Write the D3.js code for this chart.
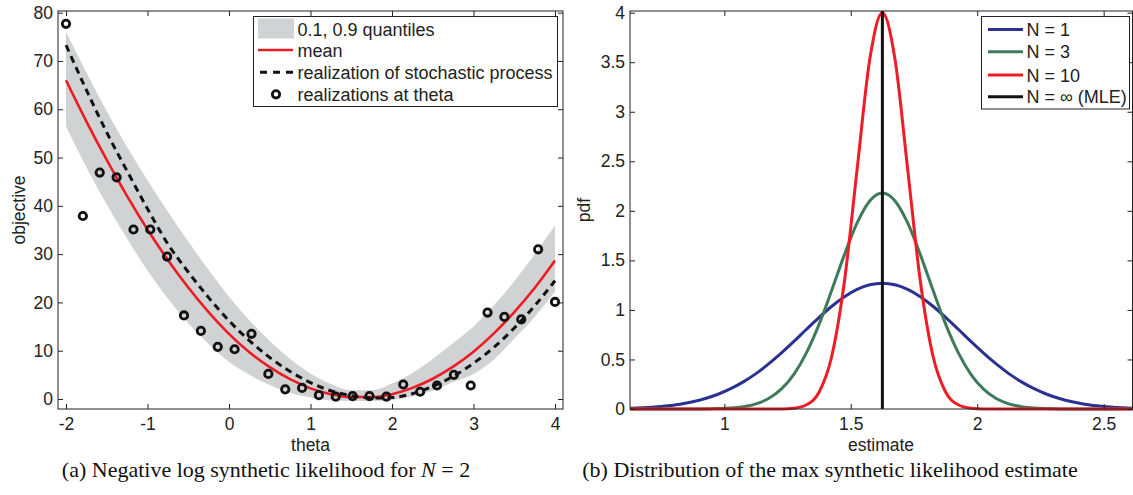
<!DOCTYPE html>
<html><head><meta charset="utf-8">
<script src="https://cdn.jsdelivr.net/npm/d3@7"></script>
<style>
body{margin:0;background:#fff}
svg{display:block}
text{font-family:"Liberation Sans",Arial,Helvetica,sans-serif;fill:#222}
.cap{font-family:"Liberation Serif","Times New Roman",Times,serif;fill:#111}
</style>
</head><body>
<svg id="c" width="1133" height="495"></svg>
<script>
// ---------- Panel (a) data ----------
const thetaGrid = [-2,-1.75,-1.5,-1.25,-1,-0.75,-0.5,-0.25,0,0.25,0.5,0.75,1,1.25,1.5,1.75,2,2.25,2.5,2.75,3,3.25,3.5,3.75,4];
const meanObjective = [66.0,57.5,49.5,42.0,35.1,28.8,23.1,18.0,13.5,9.7,6.6,4.1,2.2,1.0,0.4,0.4,1.0,2.3,4.2,6.7,9.8,13.6,18.0,23.0,28.7];
const quantile90 = [76.1,67.6,59.6,52.2,45.3,38.8,32.6,26.7,21.2,16.3,12.0,8.3,5.3,3.1,1.8,1.8,3.2,5.4,8.3,11.6,15.0,19.4,24.4,30.0,36.0];
const quantile10 = [56.5,48.0,40.3,33.2,26.6,20.8,15.7,11.4,7.7,5.0,2.9,1.3,0.3,-0.3,-0.4,-0.4,-0.2,0.5,1.7,3.5,5.2,8.2,12.5,17.0,22.2];
const realization = [73.3,64.0,55.2,47.2,39.4,32.1,26.3,21.0,16.2,12.1,8.6,5.7,3.4,1.7,0.7,0.2,0.3,1.1,2.6,4.7,7.4,10.7,14.7,19.3,24.5];
const thetaSamples = [-2,-1.793,-1.586,-1.379,-1.172,-0.966,-0.759,-0.552,-0.345,-0.138,0.069,0.276,0.483,0.690,0.897,1.103,1.310,1.517,1.724,1.931,2.138,2.345,2.552,2.759,2.966,3.172,3.379,3.586,3.793,4.0];
const sampleValues = [77.7,37.9,46.9,45.9,35.1,35.1,29.5,17.3,14.1,10.8,10.3,13.5,5.2,2.0,2.3,0.8,0.5,0.6,0.6,0.5,3.0,1.5,2.8,5.0,2.8,17.9,17.0,16.5,31.0,20.1];
const thetaTicks = [-2,-1,0,1,2,3,4];
const objectiveTicks = [0,10,20,30,40,50,60,70,80];
const legendA = ["0.1, 0.9 quantiles","mean","realization of stochastic process","realizations at theta"];

// ---------- Panel (b) data ----------
const estimateGrid = [0.625,0.675,0.725,0.775,0.825,0.875,0.925,0.975,1.025,1.075,1.125,1.175,1.225,1.275,1.325,1.375,1.425,1.475,1.525,1.575,1.625,1.675,1.725,1.775,1.825,1.875,1.925,1.975,2.025,2.075,2.125,2.175,2.225,2.275,2.325,2.375,2.425,2.475,2.525,2.575,2.625];
const pdfN1 = [0.008,0.013,0.021,0.033,0.049,0.073,0.106,0.149,0.205,0.274,0.357,0.455,0.564,0.682,0.805,0.925,1.037,1.133,1.207,1.254,1.270,1.254,1.207,1.133,1.037,0.925,0.805,0.682,0.564,0.455,0.357,0.274,0.205,0.149,0.106,0.073,0.049,0.033,0.021,0.013,0.008];
const pdfN3 = [0,0,0,0,0,0,0.001,0.004,0.010,0.024,0.052,0.106,0.200,0.350,0.569,0.857,1.200,1.558,1.878,2.100,2.180,2.100,1.878,1.558,1.200,0.857,0.569,0.350,0.200,0.106,0.052,0.024,0.010,0.004,0.001,0,0,0,0,0,0];
const pdfN10 = [0,0,0,0,0,0,0,0,0,0,0,0,0.001,0.008,0.043,0.172,0.535,1.290,2.419,3.527,4.000,3.527,2.419,1.290,0.535,0.172,0.043,0.008,0.001,0,0,0,0,0,0,0,0,0,0,0,0];
const mleEstimate = 1.625;
const estimateTicks = [1,1.5,2,2.5];
const pdfTicks = [0,0.5,1,1.5,2,2.5,3,3.5,4];
const legendB = ["N = 1","N = 3","N = 10","N = \u221E (MLE)"];
const colorsB = ["#2b3191","#3f7a5b","#ee1c25","#111111"];

const svg = d3.select("#c");
const FS = 17.5;

function drawBox(g, x, y, xt, yt, L, R, T, B) {
  const fmt = d => String(d);
  const ax = [
    [d3.axisBottom(x).tickValues(xt).tickSize(-5).tickPadding(9).tickFormat(fmt), `translate(0,${B})`],
    [d3.axisTop(x).tickValues(xt).tickSize(-5).tickFormat(""), `translate(0,${T})`],
    [d3.axisLeft(y).tickValues(yt).tickSize(-5).tickPadding(5).tickFormat(fmt), `translate(${L},0)`],
    [d3.axisRight(y).tickValues(yt).tickSize(-5).tickFormat(""), `translate(${R},0)`]
  ];
  ax.forEach(([a, tr]) => {
    const s = g.append("g").attr("transform", tr).call(a);
    s.select(".domain").remove();
    s.selectAll("line").attr("stroke", "#222");
    s.selectAll("text").style("font-size", FS + "px").attr("fill", "#222")
      .style("font-family", '"Liberation Sans",Arial,sans-serif');
  });
  g.append("rect").attr("x", L).attr("y", T).attr("width", R - L).attr("height", B - T)
    .attr("fill", "none").attr("stroke", "#222").attr("stroke-width", 1);
}

// ================= Panel (a) =================
{
  const L = 58, R = 563, T = 11, B = 409;
  const x = d3.scaleLinear().domain([-2.098, 4.098]).range([L, R]);
  const y = d3.scaleLinear().domain([-2.07, 80.35]).range([B, T]);
  const g = svg.append("g");
  const idx = d3.range(thetaGrid.length);

  g.append("path").datum(idx)
    .attr("d", d3.area().x(i => x(thetaGrid[i])).y0(i => y(quantile10[i])).y1(i => y(quantile90[i])).curve(d3.curveMonotoneX))
    .attr("fill", "#d1d2d4");
  g.append("path").datum(idx)
    .attr("d", d3.line().x(i => x(thetaGrid[i])).y(i => y(meanObjective[i])).curve(d3.curveMonotoneX))
    .attr("fill", "none").attr("stroke", "#ed1c24").attr("stroke-width", 2.6);
  g.append("path").datum(idx)
    .attr("d", d3.line().x(i => x(thetaGrid[i])).y(i => y(realization[i])).curve(d3.curveMonotoneX))
    .attr("fill", "none").attr("stroke", "#111").attr("stroke-width", 3).attr("stroke-dasharray", "7,5");
  g.selectAll("circle.s").data(d3.range(thetaSamples.length)).join("circle")
    .attr("cx", i => x(thetaSamples[i])).attr("cy", i => y(sampleValues[i])).attr("r", 3.7)
    .attr("fill", "none").attr("stroke", "#111").attr("stroke-width", 2.8);

  drawBox(g, x, y, thetaTicks, objectiveTicks, L, R, T, B);

  g.append("text").attr("x", (L + R) / 2).attr("y", 451).attr("text-anchor", "middle").style("font-size", FS + "px").text("theta");
  g.append("text").attr("transform", `translate(25,${(T + B) / 2}) rotate(-90)`).attr("text-anchor", "middle").style("font-size", FS + "px").text("objective");

  // legend
  const lg = g.append("g");
  lg.append("rect").attr("x", 253.5).attr("y", 16.5).attr("width", 304).attr("height", 90)
    .attr("fill", "#fff").attr("stroke", "#222").attr("stroke-width", 1);
  const rowsY = [28.5, 50, 72.3, 94.3];
  lg.append("rect").attr("x", 258).attr("y", 18.5).attr("width", 36).attr("height", 20).attr("fill", "#d1d2d4");
  lg.append("line").attr("x1", 258).attr("x2", 293).attr("y1", rowsY[1]).attr("y2", rowsY[1]).attr("stroke", "#ed1c24").attr("stroke-width", 2.6);
  lg.append("line").attr("x1", 260).attr("x2", 293).attr("y1", rowsY[2]).attr("y2", rowsY[2]).attr("stroke", "#111").attr("stroke-width", 3).attr("stroke-dasharray", "7,6");
  lg.append("circle").attr("cx", 276).attr("cy", rowsY[3]).attr("r", 3.7).attr("fill", "none").attr("stroke", "#111").attr("stroke-width", 2.8);
  legendA.forEach((t, i) => {
    lg.append("text").attr("x", 297.5).attr("y", [36, 57, 78.5, 101][i]).style("font-size", "18px").text(t);
  });

  const cap = g.append("text").attr("class", "cap").attr("x", 266).attr("y", 477).attr("text-anchor", "middle").style("font-size", "22px");
  cap.append("tspan").text("(a) Negative log synthetic likelihood for ");
  cap.append("tspan").style("font-style", "italic").text("N");
  cap.append("tspan").text(" = 2");
}

// ================= Panel (b) =================
{
  const L = 630, R = 1132.5, T = 11, B = 409;
  const x = d3.scaleLinear().domain([0.627, 2.614]).range([L, R]);
  const y = d3.scaleLinear().domain([0, 4.017]).range([B, T]);
  const g = svg.append("g");
  svg.append("clipPath").attr("id", "clipB").append("rect").attr("x", L).attr("y", T - 5).attr("width", R - L).attr("height", B - T + 10);
  const pg = g.append("g").attr("clip-path", "url(#clipB)");
  const idx = d3.range(estimateGrid.length);
  [pdfN1, pdfN3, pdfN10].forEach((arr, k) => {
    pg.append("path").datum(idx)
      .attr("d", d3.line().x(i => x(estimateGrid[i])).y(i => y(arr[i])).curve(d3.curveMonotoneX))
      .attr("fill", "none").attr("stroke", colorsB[k]).attr("stroke-width", 3);
  });
  pg.append("line").attr("x1", x(mleEstimate)).attr("x2", x(mleEstimate)).attr("y1", y(0)).attr("y2", y(4.017))
    .attr("stroke", colorsB[3]).attr("stroke-width", 3);

  drawBox(g, x, y, estimateTicks, pdfTicks, L, R, T, B);

  g.append("text").attr("x", 881).attr("y", 451).attr("text-anchor", "middle").style("font-size", FS + "px").text("estimate");
  g.append("text").attr("transform", `translate(590,${(T + B) / 2}) rotate(-90)`).attr("text-anchor", "middle").style("font-size", FS + "px").text("pdf");

  const lg = g.append("g");
  lg.append("rect").attr("x", 981.5).attr("y", 16.5).attr("width", 148).attr("height", 92.5)
    .attr("fill", "#fff").attr("stroke", "#222").attr("stroke-width", 1);
  const ly = [29.5, 51.7, 75, 96.7];
  const ty = [36, 58.3, 81.5, 103];
  legendB.forEach((t, i) => {
    lg.append("line").attr("x1", 988).attr("x2", 1023).attr("y1", ly[i]).attr("y2", ly[i]).attr("stroke", colorsB[i]).attr("stroke-width", 3);
    lg.append("text").attr("x", 1026.5).attr("y", ty[i]).style("font-size", "18px").text(t);
  });

  g.append("text").attr("class", "cap").attr("x", 830).attr("y", 477).attr("text-anchor", "middle").style("font-size", "22px")
    .text("(b) Distribution of the max synthetic likelihood estimate");
}
</script>
</body></html>
